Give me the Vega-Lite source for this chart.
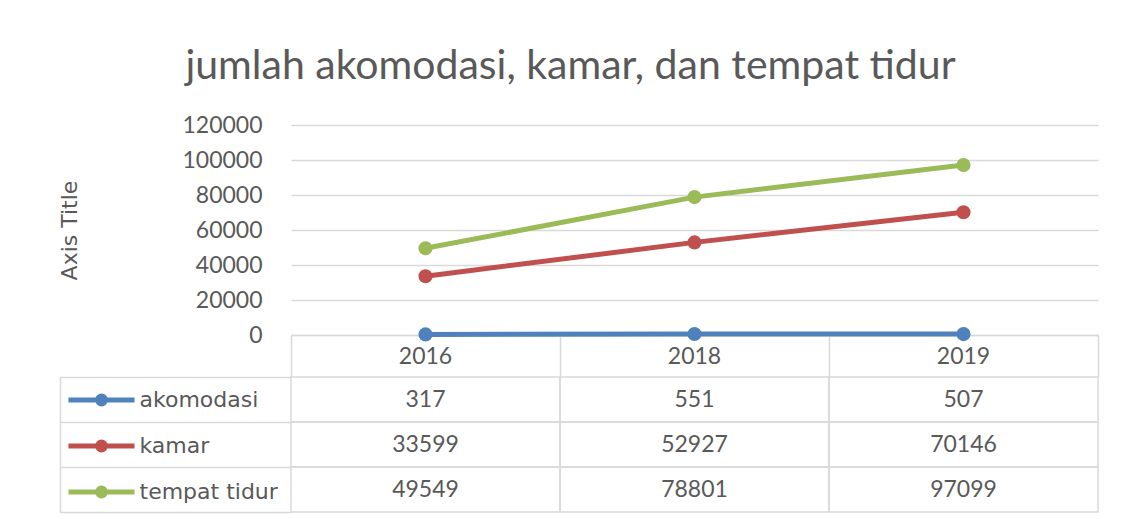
{
  "$schema": "https://vega.github.io/schema/vega-lite/v6.json",
  "width": 807,
  "height": 387,
  "autosize": {"type": "none"},
  "padding": {"left": 291, "top": 125, "right": 27, "bottom": 7},
  "background": "white",
  "config": {"view": {"stroke": null}, "font": "Lato"},
  "title": {
    "text": "jumlah akomodasi, kamar, dan tempat tidur",
    "fontSize": 41,
    "font": "Lato",
    "fontWeight": "normal",
    "color": "#595959",
    "anchor": "middle",
    "dx": -124,
    "offset": 26
  },
  "data": {
    "values": [
      {"year": "2016", "series": "akomodasi", "value": 317},
      {"year": "2018", "series": "akomodasi", "value": 551},
      {"year": "2019", "series": "akomodasi", "value": 507},
      {"year": "2016", "series": "kamar", "value": 33599},
      {"year": "2018", "series": "kamar", "value": 52927},
      {"year": "2019", "series": "kamar", "value": 70146},
      {"year": "2016", "series": "tempat tidur", "value": 49549},
      {"year": "2018", "series": "tempat tidur", "value": 78801},
      {"year": "2019", "series": "tempat tidur", "value": 97099}
    ]
  },
  "layer": [
    {
      "layer": [
        {
          "mark": {"type": "line", "strokeWidth": 5, "strokeCap": "round"},
          "encoding": {
            "x": {
              "field": "year", "type": "ordinal", "bandPosition": 0.5,
              "scale": {"type": "band", "paddingInner": 0, "paddingOuter": 0},
              "axis": {"orient": "bottom", "offset": -177, "title": null, "domainColor": "#d9d9d9", "domainWidth": 1.5, "ticks": true, "tickColor": "#d9d9d9", "tickWidth": 1.5, "tickSize": 42, "bandPosition": 1, "tickExtra": true, "labelFontSize": 23, "labelColor": "#595959", "labelFont": "Lato", "labelPadding": -32, "labelAngle": 0, "grid": false}
            },
            "y": {
              "field": "value", "type": "quantitative",
              "scale": {"domain": [0, 120000], "range": [210, 0], "nice": false},
              "axis": {"orient": "left", "values": [0, 20000, 40000, 60000, 80000, 100000, 120000], "format": "d", "domain": false, "ticks": false, "grid": true, "gridColor": "#d9d9d9", "gridWidth": 1.5, "labelFontSize": 23, "labelColor": "#595959", "labelFont": "Lato", "labelPadding": 29, "title": "Axis Title", "titleFontSize": 22, "titleFontWeight": "normal", "titleColor": "#595959", "titleFont": "DejaVu Sans", "titlePadding": 100}
            },
            "color": {
              "field": "series", "type": "nominal",
              "scale": {"domain": ["akomodasi", "kamar", "tempat tidur"], "range": ["#4F81BD", "#C0504D", "#9BBB59"]},
              "legend": {"orient": "none", "legendX": -221.5, "legendY": 243, "title": null, "symbolType": "M-1.12,0H1.12M0.135,0A0.135,0.135,0,1,1,-0.135,0A0.135,0.135,0,1,1,0.135,0M0.045,0A0.045,0.045,0,1,1,-0.045,0A0.045,0.045,0,1,1,0.045,0", "symbolSize": 3481, "symbolStrokeWidth": 5, "labelFontSize": 22, "labelColor": "#595959", "labelFont": "DejaVu Sans", "labelOffset": 6, "rowPadding": 0, "padding": 0, "direction": "vertical"}
            }
          }
        },
        {
          "mark": {"type": "point", "filled": true, "size": 200, "opacity": 1, "shape": "circle"},
          "encoding": {
            "x": {"field": "year", "type": "ordinal", "bandPosition": 0.5, "scale": {"type": "band", "paddingInner": 0, "paddingOuter": 0}},
            "y": {"field": "value", "type": "quantitative"},
            "fill": {
              "field": "series", "type": "nominal",
              "scale": {"domain": ["akomodasi", "kamar", "tempat tidur"], "range": ["#4F81BD", "#C0504D", "#9BBB59"]},
              "legend": null
            }
          }
        }
      ]
    },
    {
      "layer": [
        {
          "mark": {"type": "rect", "filled": false, "stroke": "#d9d9d9", "strokeWidth": 1.5},
          "encoding": {
            "x": {"field": "year", "type": "ordinal", "scale": {"type": "band", "paddingInner": 0, "paddingOuter": 0}},
            "y": {
              "field": "series", "type": "nominal",
              "scale": {"type": "band", "domain": ["akomodasi", "kamar", "tempat tidur"], "range": [252, 387], "paddingInner": 0, "paddingOuter": 0},
              "axis": {"orient": "left", "offset": 231, "title": null, "labels": false, "grid": false, "domain": true, "domainColor": "#d9d9d9", "domainWidth": 1.5, "ticks": true, "tickSize": -231, "tickColor": "#d9d9d9", "tickWidth": 1.5, "bandPosition": 1, "tickExtra": true}
            }
          }
        },
        {
          "mark": {"type": "text", "fontSize": 23, "font": "Lato", "color": "#595959"},
          "encoding": {
            "x": {"field": "year", "type": "ordinal", "scale": {"type": "band", "paddingInner": 0, "paddingOuter": 0}},
            "y": {"field": "series", "type": "nominal"},
            "text": {"field": "value", "type": "nominal"}
          }
        }
      ]
    }
  ],
  "resolve": {"scale": {"y": "independent"}, "axis": {"y": "independent"}}
}
